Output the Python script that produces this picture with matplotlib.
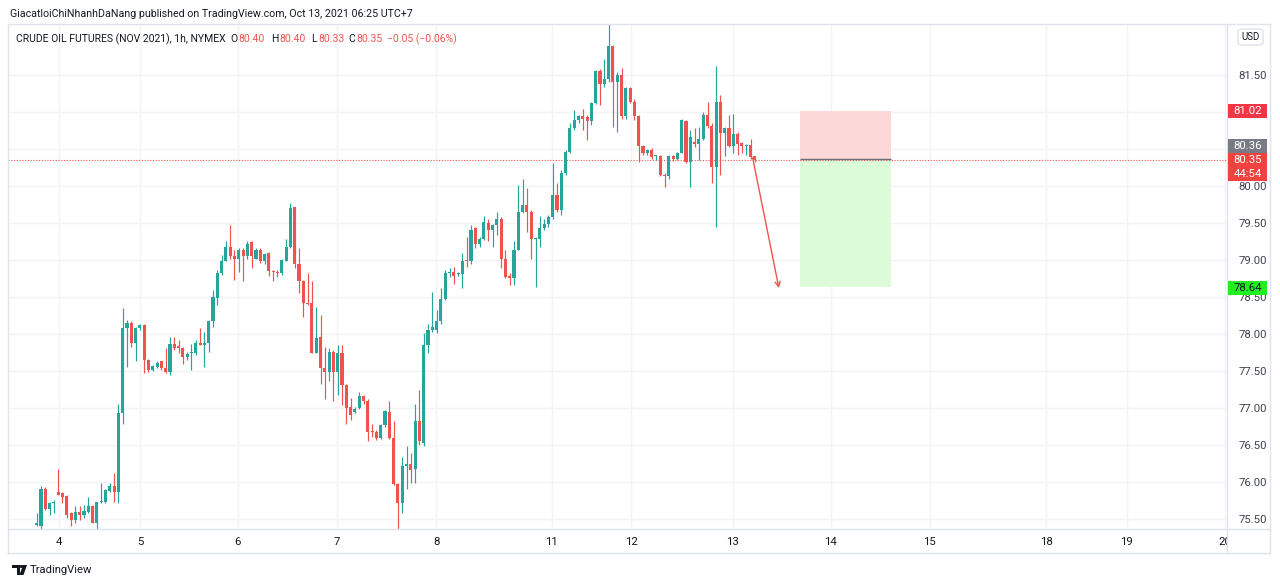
import matplotlib
matplotlib.use("Agg")
import matplotlib.pyplot as plt
from matplotlib.patches import Rectangle, FancyBboxPatch, Polygon
from matplotlib.lines import Line2D
from matplotlib.transforms import Bbox, TransformedBbox
import numpy as np

plt.rcParams['font.family'] = ['Roboto', 'DejaVu Sans']

# ---------------- data (hourly candles, CL Nov 2021) ----------------
opens = [75.42, 75.41, 75.91, 75.63, 75.72, 75.86, 75.85, 75.81, 75.58, 75.49,
         75.60, 75.55, 75.60, 75.67, 75.45, 75.73, 75.73, 75.88, 75.94, 75.86,
         76.93, 78.08, 78.15, 77.88, 78.08, 78.12, 77.65, 77.51, 77.56, 77.63,
         77.54, 77.48, 77.87, 77.84, 77.81, 77.69, 77.74, 77.75, 77.88, 77.85,
         77.88, 78.17, 78.48, 78.82, 78.99, 79.17, 79.05, 79.01, 79.13, 79.05,
         79.24, 79.02, 79.14, 78.98, 79.09, 78.85, 78.84, 78.82, 78.99, 79.17,
         79.71, 78.95, 78.71, 78.42, 78.42, 77.75, 77.96, 77.54, 77.49, 77.76,
         77.49, 77.75, 77.31, 77.02, 76.95, 77.00, 77.16, 77.09, 76.68, 76.67,
         76.59, 76.77, 76.94, 76.59, 75.97, 75.71, 76.21, 76.24, 76.17, 76.82,
         76.53, 77.85, 78.06, 78.05, 78.18, 78.47, 78.82, 78.84, 78.81, 78.81,
         78.99, 78.98, 79.43, 79.22, 79.29, 79.50, 79.40, 79.47, 79.56, 79.01,
         78.78, 78.75, 79.14, 79.65, 79.74, 79.65, 79.28, 79.29, 79.43, 79.49,
         79.58, 79.88, 79.67, 80.17, 80.46, 80.78, 80.89, 80.94, 80.93, 80.88,
         81.12, 81.56, 81.38, 81.45, 81.89, 81.40, 81.50, 80.94, 81.32, 81.14,
         80.94, 80.54, 80.44, 80.49, 80.40, 80.40, 80.15, 80.13, 80.40, 80.36,
         80.45, 80.88, 80.33, 80.59, 80.57, 80.64, 80.96, 80.81, 80.25, 81.14,
         80.71, 80.79, 80.54, 80.70, 80.58, 80.54, 80.55, 80.40]
highs = [75.58, 75.94, 75.93, 75.73, 75.76, 76.17, 75.87, 75.82, 75.60, 75.67,
         75.67, 75.69, 75.80, 75.69, 75.73, 75.99, 75.91, 75.99, 76.12, 77.06,
         78.35, 78.19, 78.17, 78.10, 78.14, 78.14, 77.66, 77.58, 77.63, 77.64,
         77.81, 77.96, 77.96, 77.92, 77.83, 77.76, 77.87, 77.92, 78.08, 78.03,
         78.19, 78.59, 78.87, 79.07, 79.25, 79.47, 79.13, 79.16, 79.16, 79.25,
         79.25, 79.16, 79.16, 79.10, 79.11, 78.86, 78.86, 79.02, 79.29, 79.77,
         79.72, 79.16, 78.73, 78.82, 78.71, 78.37, 78.26, 77.83, 77.81, 77.79,
         77.85, 77.85, 77.33, 77.13, 77.02, 77.21, 77.17, 77.12, 76.79, 76.70,
         76.79, 76.97, 77.09, 76.82, 75.98, 76.34, 76.48, 76.39, 77.06, 77.24,
         78.01, 78.14, 78.57, 78.32, 78.62, 78.86, 78.89, 78.91, 78.84, 79.09,
         79.31, 79.47, 79.45, 79.31, 79.59, 79.56, 79.49, 79.65, 79.58, 79.13,
         78.82, 79.25, 80.02, 80.10, 79.97, 79.68, 79.31, 79.59, 79.56, 79.61,
         80.31, 80.04, 80.22, 80.49, 80.85, 81.03, 80.96, 81.04, 80.96, 81.14,
         81.57, 81.58, 81.71, 82.19, 81.91, 81.54, 81.59, 81.34, 81.34, 81.18,
         80.96, 80.55, 80.50, 80.51, 80.42, 80.42, 80.17, 80.42, 80.42, 80.46,
         80.90, 80.89, 80.76, 80.78, 80.80, 81.00, 81.14, 80.85, 81.62, 81.23,
         80.80, 80.96, 80.97, 80.73, 80.59, 80.57, 80.64, 80.40]
lows = [75.40, 75.36, 75.62, 75.55, 75.58, 75.82, 75.71, 75.51, 75.41, 75.45,
        75.49, 75.51, 75.58, 75.44, 75.36, 75.72, 75.71, 75.87, 75.73, 75.71,
        76.79, 77.56, 77.83, 77.63, 78.05, 77.47, 77.49, 77.50, 77.54, 77.51,
        77.47, 77.45, 77.78, 77.74, 77.60, 77.65, 77.51, 77.72, 77.85, 77.56,
        77.76, 78.10, 78.39, 78.80, 78.98, 79.02, 78.73, 78.84, 78.71, 79.02,
        78.89, 79.01, 78.96, 78.95, 78.78, 78.72, 78.77, 78.80, 78.98, 79.16,
        78.89, 78.55, 78.23, 78.39, 77.74, 77.74, 77.33, 77.12, 77.36, 77.09,
        77.18, 77.04, 76.79, 76.84, 76.93, 76.99, 77.06, 76.56, 76.61, 76.57,
        76.58, 76.75, 76.58, 75.96, 75.35, 75.58, 75.91, 75.98, 75.98, 76.50,
        76.48, 77.74, 78.03, 78.02, 78.14, 78.46, 78.77, 78.68, 78.78, 78.62,
        78.91, 78.95, 79.16, 79.18, 79.27, 79.25, 79.17, 79.34, 78.89, 78.75,
        78.66, 78.66, 79.13, 79.63, 79.38, 79.02, 78.64, 79.18, 79.40, 79.45,
        79.56, 79.65, 79.61, 80.15, 80.44, 80.76, 80.85, 80.76, 80.62, 80.82,
        81.11, 81.09, 81.34, 81.41, 80.80, 80.73, 80.91, 80.91, 81.12, 80.89,
        80.33, 80.42, 80.42, 80.37, 80.35, 80.13, 79.99, 80.10, 80.34, 80.35,
        80.44, 80.31, 79.99, 80.53, 80.35, 80.62, 80.78, 80.04, 79.45, 80.15,
        80.40, 80.53, 80.44, 80.42, 80.44, 80.42, 80.37, 80.33]
closes = [75.45, 75.90, 75.64, 75.72, 75.72, 75.83, 75.80, 75.55, 75.49, 75.59,
          75.55, 75.61, 75.67, 75.45, 75.73, 75.74, 75.89, 75.94, 75.86, 76.93,
          78.08, 78.15, 77.88, 78.08, 78.12, 77.65, 77.51, 77.57, 77.61, 77.54,
          77.48, 77.87, 77.81, 77.81, 77.69, 77.73, 77.76, 77.88, 77.85, 77.88,
          78.17, 78.50, 78.82, 78.99, 79.17, 79.05, 79.01, 79.13, 79.05, 79.22,
          79.06, 79.14, 78.99, 79.08, 78.85, 78.84, 78.82, 79.00, 79.18, 79.70,
          78.95, 78.71, 78.42, 78.41, 77.75, 77.95, 77.54, 77.48, 77.76, 77.49,
          77.74, 77.31, 77.00, 76.91, 76.99, 77.16, 77.09, 76.68, 76.67, 76.59,
          76.77, 76.96, 76.59, 75.97, 75.71, 76.22, 76.24, 76.16, 76.82, 76.55,
          77.85, 78.05, 78.09, 78.17, 78.47, 78.82, 78.84, 78.78, 78.81, 78.99,
          78.98, 79.40, 79.22, 79.29, 79.52, 79.40, 79.47, 79.56, 79.01, 78.77,
          78.76, 79.14, 79.65, 79.74, 79.65, 79.29, 79.29, 79.43, 79.49, 79.58,
          79.88, 79.67, 80.17, 80.46, 80.78, 80.89, 80.94, 80.91, 80.88, 81.12,
          81.55, 81.38, 81.45, 81.89, 81.40, 81.50, 80.94, 81.32, 81.14, 80.94,
          80.54, 80.44, 80.48, 80.39, 80.41, 80.15, 80.13, 80.40, 80.36, 80.45,
          80.89, 80.33, 80.66, 80.57, 80.64, 80.96, 80.81, 80.25, 81.14, 80.71,
          80.78, 80.54, 80.70, 80.57, 80.54, 80.55, 80.39, 80.35]

day_labels = ['4', '5', '6', '7', '8', '11', '12', '13', '14', '15', '18', '19', '20']
day_pos = [5.2, 24.0, 46.8, 69.8, 92.9, 119.8, 138.3, 161.9, 184.7, 207.7, 234.7, 253.5, 276.3]
price_ticks = [75.5, 76.0, 76.5, 77.0, 77.5, 78.0, 78.5, 79.0, 79.5, 80.0, 80.5, 81.0, 81.5]

last_price = 80.35
entry_price = 80.36
stop_price = 81.02
target_price = 78.64
pos_start, pos_end = 177.5, 198.7       # bar positions of the long/short tool
arrow_start = (166.5, 80.38)
arrow_end = (172.6, 78.62)

# ---------------- style ----------------
GREEN = '#26a69a'
RED = '#ef5350'
TXT = '#131722'
GRID = '#f2f4f9'
BORDER = '#e0e3eb'

W, H = 1280, 585
fig = plt.figure(figsize=(12.8, 5.85), dpi=100)
fig.patch.set_facecolor('white')


def fx(px):
    return px / W


def fy(py):
    return 1 - py / H


ax = fig.add_axes([fx(8), fy(529), fx(1227) - fx(8), fy(24) - fy(529)])
ax.set_xlim(-6.67, 276.8)
ax.set_ylim(75.365, 82.189)

o = np.array(opens); h = np.array(highs); l = np.array(lows); c = np.array(closes)
x = np.arange(len(o))
cols = np.where(c >= o, GREEN, RED)
ax.vlines(x, l, h, colors=cols, lw=0.85, zorder=3)
body_bottom = np.minimum(o, c)
body_h = np.maximum(np.abs(c - o), 0.014)
ax.bar(x, body_h, bottom=body_bottom, width=0.72, color=cols, lw=0, zorder=4)

# grid
ax.set_xticks(day_pos)
ax.set_xticklabels(day_labels)
ax.set_yticks(price_ticks)
ax.set_yticklabels(['' if p in (80.5, 81.0) else f'{p:.2f}' for p in price_ticks])
ax.grid(True, color=GRID, lw=1, zorder=0)
ax.set_axisbelow(True)
ax.yaxis.tick_right()
ax.tick_params(axis='y', length=0, pad=8, labelsize=8.2, labelcolor='#3e4250')
ax.tick_params(axis='x', length=0, pad=6, labelsize=8.2, labelcolor=TXT)
for s in ax.spines.values():
    s.set_visible(False)

# clip time labels at the price-scale border (like "20" in the reference)
clipbox = TransformedBbox(Bbox([[fx(8), 0], [fx(1227), 1]]), fig.transFigure)
for lab in ax.get_xticklabels():
    lab.set_clip_box(clipbox)
    lab.set_clip_on(True)

# last price dotted line
ax.axhline(last_price, color=RED, lw=0.8, ls=(0, (1, 1.5)), zorder=2)

# position tool
ax.add_patch(Rectangle((pos_start, entry_price), pos_end - pos_start, stop_price - entry_price,
                       facecolor='#fdd8d8', edgecolor='none', zorder=1.5))
ax.add_patch(Rectangle((pos_start, target_price), pos_end - pos_start, entry_price - target_price,
                       facecolor='#dbfbd9', edgecolor='none', zorder=1.5))
ax.hlines(entry_price, pos_start, pos_end, color='#6b6e78', lw=1, zorder=2)

# arrow
ax.annotate('', xy=arrow_end, xytext=arrow_start,
            arrowprops=dict(arrowstyle='->', color=RED, lw=1, mutation_scale=9,
                            shrinkA=0, shrinkB=0), zorder=5)

# ---------------- frame ----------------
def fig_line(x0, y0, x1, y1, color=BORDER, lw=1):
    fig.add_artist(Line2D([fx(x0), fx(x1)], [fy(y0), fy(y1)], color=color, lw=lw,
                          transform=fig.transFigure))


fig_line(8, 24, 1270, 24)
fig_line(8, 553, 1270, 553)
fig_line(8, 24, 8, 553)
fig_line(1270, 24, 1270, 553)
fig_line(1227, 24, 1227, 553)
fig_line(8, 529, 1270, 529)


# ---------------- price badges ----------------
def badge(y0, y1, color, lines, tcolor='white'):
    fig.add_artist(Rectangle((fx(1228), fy(y1)), fx(1267) - fx(1228), fy(y0) - fy(y1),
                             facecolor=color, edgecolor='none', transform=fig.transFigure, zorder=10))
    n = len(lines)
    for i, s in enumerate(lines):
        yc = y0 + (y1 - y0) * (i + 0.5) / n
        fig.text(fx(1247.5), fy(yc), s, color=tcolor, fontsize=8.2, ha='center', va='center', zorder=11)


badge(104, 118, '#f23645', [f'{stop_price:.2f}'])
badge(139, 153, '#787b86', [f'{entry_price:.2f}'])
badge(153, 181, '#f0433f', [f'{last_price:.2f}', '44:54'])
badge(281, 295, '#22ee22', [f'{target_price:.2f}'], tcolor=TXT)

# USD box
fig.add_artist(FancyBboxPatch((fx(1238), fy(45)), fx(1263) - fx(1238), fy(29) - fy(45),
                              boxstyle='round,pad=0,rounding_size=0.004', facecolor='white',
                              edgecolor=BORDER, lw=1, transform=fig.transFigure))
fig.text(fx(1250.5), fy(37), 'USD', fontsize=7, color=TXT, ha='center', va='center')

# ---------------- header text ----------------
fig.canvas.draw()
r = fig.canvas.get_renderer()


def fit_text(x0, yc, s, target_w, color=TXT, size=8.5, ha='left'):
    t = fig.text(fx(x0), fy(yc), s, fontsize=size, color=color, ha=ha, va='center')
    w = t.get_window_extent(renderer=r).width
    t.set_fontsize(size * target_w / w)
    return t


fit_text(10, 14, 'GiacatloiChiNhanhDaNang published on TradingView.com, Oct 13, 2021 06:25 UTC+7', 398)
t2 = fit_text(16, 39, 'CRUDE OIL FUTURES (NOV 2021), 1h, NYMEX', 209)
fs2 = t2.get_fontsize()
parts = [(230, 'O', TXT), (238, '80.40', RED), (271, 'H', TXT), (279, '80.40', RED),
         (311, 'L', TXT), (318, '80.33', RED), (348, 'C', TXT), (356, '80.35', RED),
         (387, '\u22120.05 (\u22120.06%)', RED)]
for px, s, col in parts:
    fig.text(fx(px), fy(39), s, fontsize=fs2, color=col, ha='left', va='center')

# ---------------- TradingView logo ----------------
fig.add_artist(Polygon([[fx(12), fy(565)], [fx(20), fy(565)], [fx(20), fy(575)], [fx(16.5), fy(575)],
                        [fx(16.5), fy(568)], [fx(12), fy(568)]], closed=True, facecolor=TXT,
                       edgecolor='none', transform=fig.transFigure))
fig.add_artist(Polygon([[fx(23), fy(565)], [fx(27), fy(565)], [fx(23.5), fy(575)], [fx(19.5), fy(575)]],
                       closed=True, facecolor=TXT, edgecolor='none', transform=fig.transFigure))
fig.add_artist(plt.Circle((fx(21.5), fy(566.5)), 1.6 / W, color=TXT, transform=fig.transFigure))
fit_text(30, 570, 'TradingView', 62)

fig.savefig('out.png', dpi=100)
